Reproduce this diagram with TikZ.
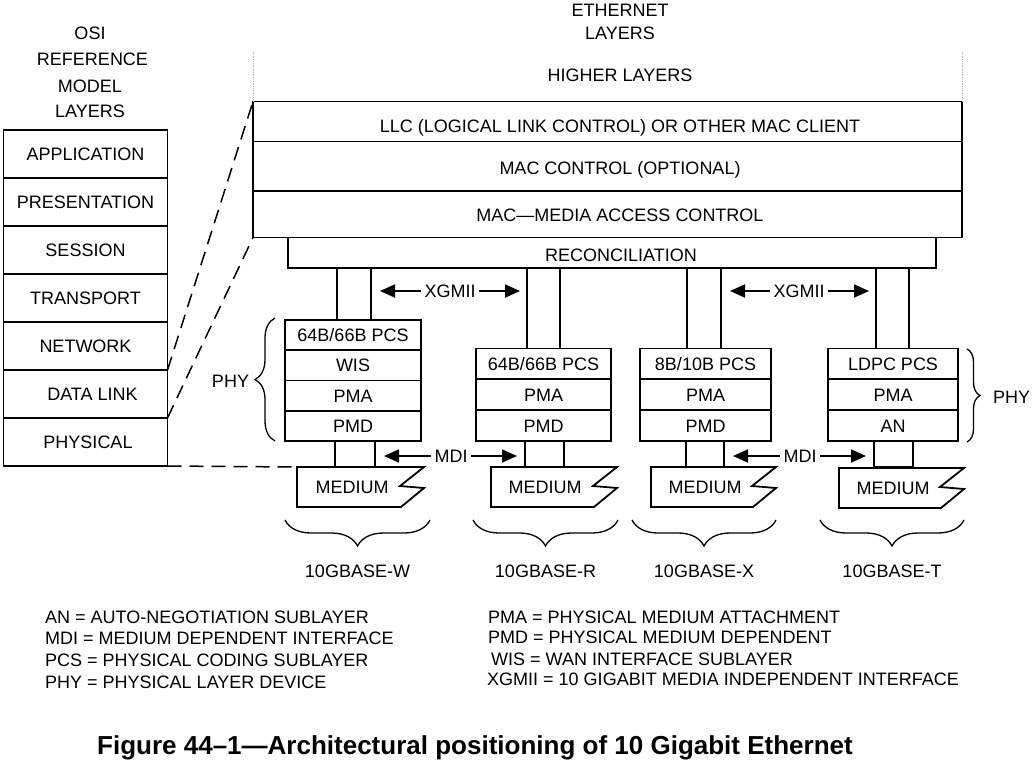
\documentclass[tikz,border=0pt]{standalone}
\usepackage{fontspec}
\setmainfont{Liberation Sans}
\usepackage{tikz}
\usetikzlibrary{shapes, arrows.meta, positioning, decorations.pathreplacing}
\tikzstyle{tnode} = [text height=12.9pt, text depth=0pt]
\tikzstyle{osinode} = [rectangle, draw, line width=1.8pt, outer sep=0pt, minimum width=164pt, minimum height=48pt, tnode]
\tikzstyle{ethnode} = [rectangle, draw, line width=1.8pt, outer sep=0pt, minimum width=709pt]
\tikzstyle{subnode} = [rectangle, draw, line width=1.8pt, outer sep=0pt, inner sep=0pt, tnode]
\tikzstyle{pipe} = [rectangle, draw, line width=1.8pt, outer sep=0pt, anchor=north]
\tikzstyle{legend} = [tnode, anchor=west, inner sep=0pt]
\tikzstyle{line} = [draw, line width=1.8pt]
\tikzstyle{dline} = [draw, line width=1.5pt, dash pattern=on 14pt off 8pt]
\tikzstyle{iface} = [draw, line width=1.8pt, -{Triangle[length=15pt, width=13pt]}]
\tikzstyle{brace} = [draw, line width=1.3pt, decorate, decoration={brace, amplitude=20pt}]

\begin{document}
\begin{tikzpicture}[x=1pt, y=-1pt, font=\fontsize{18pt}{21pt}\selectfont, every label/.style={tnode}]
	\useasboundingbox (0,0) rectangle (1032,763);

	% OSI reference model
	\node [tnode] (osi) at (90,33) {OSI};
	\node [tnode] (ref) at (92.5,59) {REFERENCE};
	\node [tnode] (model) at (90,86) {MODEL};
	\node [tnode] (osilayers) at (90,111.5) {LAYERS};

	\node [osinode] (app) at (85.5,154) {APPLICATION};
	\node [osinode] (pres) at (85.5,202) {PRESENTATION};
	\node [osinode] (sess) at (85.5,250) {SESSION};
	\node [osinode] (trans) at (85.5,298) {TRANSPORT};
	\node [osinode] (net) at (85.5,346) {NETWORK};
	\node [osinode, label={[xshift=7pt]center:DATA LINK}] (dl) at (85.5,394) {};
	\node [osinode, label={[xshift=2.5pt]center:PHYSICAL}] (phys) at (85.5,442) {};

	% ethernet layers
	\node [tnode] (eth) at (620,10) {ETHERNET};
	\node [tnode] (ethlayers) at (620,33) {LAYERS};
	\node [tnode] (higher) at (620,75) {HIGHER LAYERS};
	\node [ethnode, minimum height=40pt, label={[xshift=12.5pt, yshift=-5pt]center:LLC (LOGICAL LINK CONTROL) OR OTHER MAC CLIENT}] (llc) at (607.5,121.5) {};
	\node [ethnode, minimum height=49.5pt, label={[xshift=12.5pt, yshift=-2pt]center:MAC CONTROL (OPTIONAL)}] (macc) at (607.5,166.25) {};
	\node [ethnode, minimum height=46.5pt, label={[xshift=12.5pt, yshift=-1pt]center:MAC—MEDIA ACCESS CONTROL}] (mac) at (607.5,214.25) {};
	\node [ethnode, minimum width=648pt, minimum height=30.5pt, label={[xshift=9pt, yshift=-2pt]center:RECONCILIATION}] (recon) at (612,252.75) {};

	\coordinate (hl) at (253,52);
	\coordinate (hr) at (962,52);
	\path [draw, gray!60, line width=0.8pt, densely dotted] (hl) -- (llc.north west);
	\path [draw, gray!60, line width=0.8pt, densely dotted] (hr) -- (llc.north east);

	% 10GBASE-W
	\node [pipe, minimum width=34pt, minimum height=52pt] (xgw) at (354,268) {};
	\node [subnode, minimum width=136pt, minimum height=30.25pt] (pcsw) at (353,335.1) {64B/66B PCS};
	\node [subnode, minimum width=136pt, minimum height=30.25pt, below=0pt of pcsw] (wisw) {WIS};
	\node [subnode, minimum width=136pt, minimum height=30.25pt, below=0pt of wisw] (pmaw) {PMA};
	\node [subnode, minimum width=136pt, minimum height=30.25pt, below=0pt of pmaw] (pmdw) {PMD};
	\node [pipe, minimum width=40pt, minimum height=26pt] (mdiw) at (355,441) {};
	\node [tnode] (medw) at (352,487) {MEDIUM};
	\path [line] (297,467) -- ++(127,0) -- ++(-24,19) -- ++(24,2) -- ++(-23,19) -- (297,507) -- cycle;

	% 10GBASE-R
	\node [pipe, minimum width=33pt, minimum height=80.5pt] (xgr) at (543.5,268) {};
	\node [subnode, minimum width=135pt, minimum height=30.83pt] (pcsr) at (543.5,363.9) {64B/66B PCS};
	\node [subnode, minimum width=135pt, minimum height=30.83pt, below=0pt of pcsr] (pmar) {PMA};
	\node [subnode, minimum width=135pt, minimum height=30.83pt, below=0pt of pmar] (pmdr) {PMD};
	\node [pipe, minimum width=39pt, minimum height=26pt] (mdir) at (544.5,441) {};
	\node [tnode] (medr) at (545,487) {MEDIUM};
	\path [line] (491,467) -- ++(126,0) -- ++(-24,19) -- ++(24,2) -- ++(-23,19) -- (491,507) -- cycle;

	% 10GBASE-X
	\node [pipe, minimum width=34pt, minimum height=80.5pt] (xgx) at (704,268) {};
	\node [subnode, minimum width=131pt, minimum height=30.83pt] (pcsx) at (705.5,363.9) {8B/10B PCS};
	\node [subnode, minimum width=131pt, minimum height=30.83pt, below=0pt of pcsx] (pmax) {PMA};
	\node [subnode, minimum width=131pt, minimum height=30.83pt, below=0pt of pmax] (pmdx) {PMD};
	\node [pipe, minimum width=38pt, minimum height=26pt] (mdix) at (705,441) {};
	\node [tnode] (medx) at (705,487) {MEDIUM};
	\path [line] (651,467) -- ++(125,0) -- ++(-24,19) -- ++(24,2) -- ++(-23,19) -- (651,507) -- cycle;

	% 10GBASE-T
	\node [pipe, minimum width=33pt, minimum height=80.5pt] (xgt) at (892.5,268) {};
	\node [subnode, minimum width=130pt, minimum height=30.83pt] (pcst) at (893,363.9) {LDPC PCS};
	\node [subnode, minimum width=130pt, minimum height=30.83pt, below=0pt of pcst] (pmat) {PMA};
	\node [subnode, minimum width=130pt, minimum height=30.83pt, below=0pt of pmat] (ant) {AN};
	\node [pipe, minimum width=39pt, minimum height=26pt] (mdit) at (893.5,441) {};
	\node [tnode] (medt) at (893,488) {MEDIUM};
	\path [line] (839,468) -- ++(125,0) -- ++(-24,19) -- ++(24,2) -- ++(-23,19) -- (839,508) -- cycle;

	% OSI to ethernet
	\coordinate (medwtl) at (297,467);
	\path [dline] (dl.north east) -- (llc.north west);
	\path [dline] (phys.north east) -- (mac.south west);
	\path [dline] (phys.south east) -- (medwtl);

	% interfaces
	\node [tnode] (xgmiil) at (450,291) {XGMII};
	\node [tnode] (xgmiir) at (799,291) {XGMII};
	\node [tnode] (mdil) at (451,456) {MDI};
	\node [tnode] (mdir2) at (800,456) {MDI};
	\coordinate (xgll) at (380,291);
	\coordinate (xglr) at (520,291);
	\coordinate (xgrl) at (730,291);
	\coordinate (xgrr) at (869,291);
	\coordinate (mdll) at (384,456);
	\coordinate (mdlr) at (517,456);
	\coordinate (mdrl) at (733,456);
	\coordinate (mdrr) at (866,456);
	\path [iface] (xgmiil) -- (xgll);
	\path [iface] (xgmiil) -- (xglr);
	\path [iface] (xgmiir) -- (xgrl);
	\path [iface] (xgmiir) -- (xgrr);
	\path [iface] (mdil) -- (mdll);
	\path [iface] (mdil) -- (mdlr);
	\path [iface] (mdir2) -- (mdrl);
	\path [iface] (mdir2) -- (mdrr);

	% PHY braces
	\coordinate (phywt) at (275,318);
	\coordinate (phywb) at (275,441);
	\coordinate (phytt) at (967,349);
	\coordinate (phytb) at (967,442);
	\path [brace] (phywb) -- (phywt);
	\path [brace, decoration={brace, amplitude=13pt}] (phytt) -- (phytb);
	\node [tnode] (phyw) at (230.5,381) {PHY};
	\node [tnode] (phyt) at (1011.5,397) {PHY};

	% port types
	\coordinate (bwl) at (285,520);
	\coordinate (bwr) at (430,520);
	\coordinate (brl) at (473,520);
	\coordinate (brr) at (618,520);
	\coordinate (bxl) at (632,520);
	\coordinate (bxr) at (776,520);
	\coordinate (btl) at (820,520);
	\coordinate (btr) at (964,520);
	\path [brace, decoration={brace, amplitude=26pt}] (bwr) -- (bwl);
	\path [brace, decoration={brace, amplitude=26pt}] (brr) -- (brl);
	\path [brace, decoration={brace, amplitude=26pt}] (bxr) -- (bxl);
	\path [brace, decoration={brace, amplitude=26pt}] (btr) -- (btl);
	\node [tnode] (basew) at (357.5,571) {10GBASE-W};
	\node [tnode] (baser) at (545.5,571) {10GBASE-R};
	\node [tnode] (basex) at (704,571) {10GBASE-X};
	\node [tnode] (baset) at (892,571) {10GBASE-T};

	% abbreviations
	\node [legend] (legan) at (45,617) {AN = AUTO-NEGOTIATION SUBLAYER};
	\node [legend] (legmdi) at (45,638) {MDI = MEDIUM DEPENDENT INTERFACE};
	\node [legend] (legpcs) at (45,660) {PCS = PHYSICAL CODING SUBLAYER};
	\node [legend] (legphy) at (45,682) {PHY = PHYSICAL LAYER DEVICE};
	\node [legend] (legpma) at (488,617) {PMA = PHYSICAL MEDIUM ATTACHMENT};
	\node [legend] (legpmd) at (488,637) {PMD = PHYSICAL MEDIUM DEPENDENT};
	\node [legend] (legwis) at (491,659) {WIS = WAN INTERFACE SUBLAYER};
	\node [legend] (legxgmii) at (487,679) {XGMII = 10 GIGABIT MEDIA INDEPENDENT INTERFACE};

	\node [text height=18.6pt, text depth=0pt, font=\fontsize{26pt}{30pt}\selectfont\bfseries] (caption) at (475,745) {Figure 44–1—Architectural positioning of 10 Gigabit Ethernet};
\end{tikzpicture}
\end{document}
